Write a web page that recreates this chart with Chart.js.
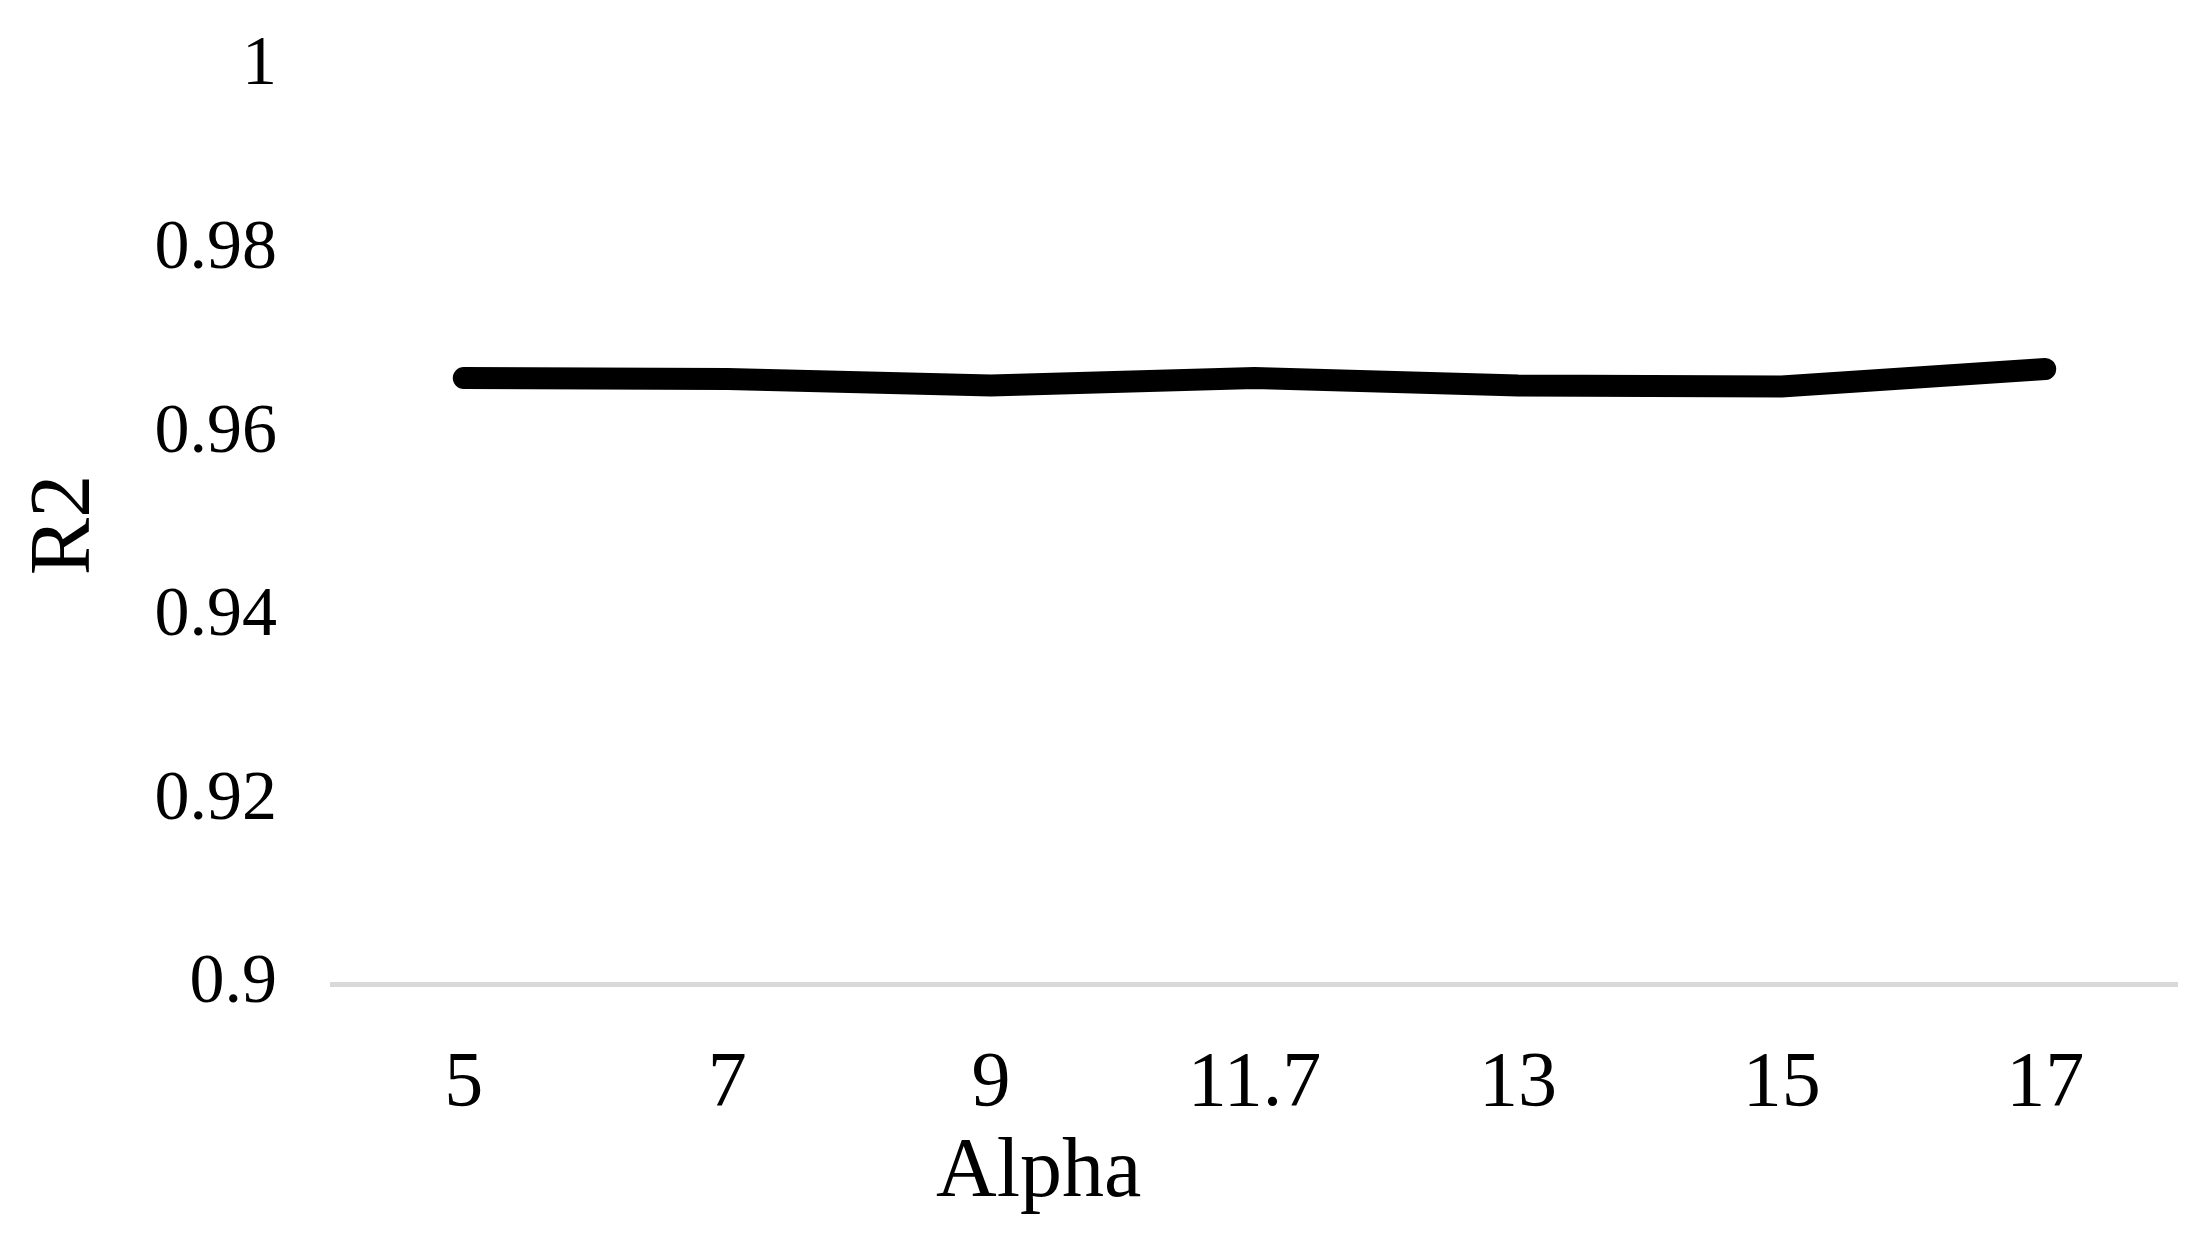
<!DOCTYPE html>
<html>
<head>
<meta charset="utf-8">
<script src="https://cdn.jsdelivr.net/npm/chart.js@4"></script>
<style>
  html, body { margin: 0; padding: 0; background: #fff; }
  #grafico { display: block; }
</style>
</head>
<body>
<canvas id="grafico" width="2208" height="1244"></canvas>
<script>
// Datos del grafico
const alphas = ["5", "7", "9", "11.7", "13", "15", "17"];
const r2Values = [0.9660, 0.9659, 0.9652, 0.9660, 0.9652, 0.9651, 0.9670];
const yTicks = [0.9, 0.92, 0.94, 0.96, 0.98, 1];
const xTitle = "Alpha";
const yTitle = "R2";

const contexto = document.getElementById("grafico").getContext("2d");

// Titulo del eje X, un poco a la izquierda del centro como en el original
const tituloX = {
  id: "tituloX",
  afterDraw(chart) {
    const { ctx, chartArea } = chart;
    ctx.save();
    ctx.font = "84px 'Liberation Serif'";
    ctx.fillStyle = "#000";
    ctx.textAlign = "center";
    ctx.textBaseline = "middle";
    const x = chartArea.left + (chartArea.right - chartArea.left) * 0.383;
    ctx.fillText(xTitle, x, chartArea.bottom + 190);
    ctx.restore();
  },
};

const grafico = new Chart(contexto, {
  type: "line",
  data: {
    labels: alphas,
    datasets: [
      {
        label: "R2",
        data: r2Values,
        borderColor: "#000",
        backgroundColor: "#000",
        borderWidth: 22,
        borderCapStyle: "round",
        borderJoinStyle: "miter",
        pointRadius: 0,
        tension: 0,
        fill: false,
      },
    ],
  },
  options: {
    responsive: false,
    animation: false,
    devicePixelRatio: 1,
    layout: {
      autoPadding: false,
      padding: { top: 0, right: 31, bottom: 0, left: 0 },
    },
    plugins: {
      legend: { display: false },
      tooltip: { enabled: false },
    },
    scales: {
      x: {
        offset: true,
        grid: { display: false, drawTicks: false },
        border: { display: true, color: "#d9d9d9", width: 5 },
        ticks: {
          color: "#000",
          padding: 54,
          font: { family: "Liberation Serif", size: 78 },
        },
        afterFit: (scale) => {
          scale.height = 260;
        },
      },
      y: {
        min: 0.9,
        max: 1,
        grid: { display: false, drawTicks: false },
        border: { display: false },
        afterBuildTicks: (scale) => {
          scale.ticks = yTicks.map((v) => ({ value: v }));
        },
        ticks: {
          color: "#000",
          padding: 55,
          font: { family: "Liberation Serif", size: 70 },
          callback: (v) => String(Number(v.toFixed(2))),
        },
        title: {
          display: true,
          text: yTitle,
          color: "#000",
          padding: { top: 15, bottom: 0 },
          font: { family: "Liberation Serif", size: 86 },
        },
        afterFit: (scale) => {
          scale.width = 332;
          // margen superior fijo para que "1" quede donde en el original
          scale.paddingTop = 66;
          scale.paddingBottom = 0;
        },
      },
    },
  },
  plugins: [tituloX],
});
</script>
</body>
</html>
